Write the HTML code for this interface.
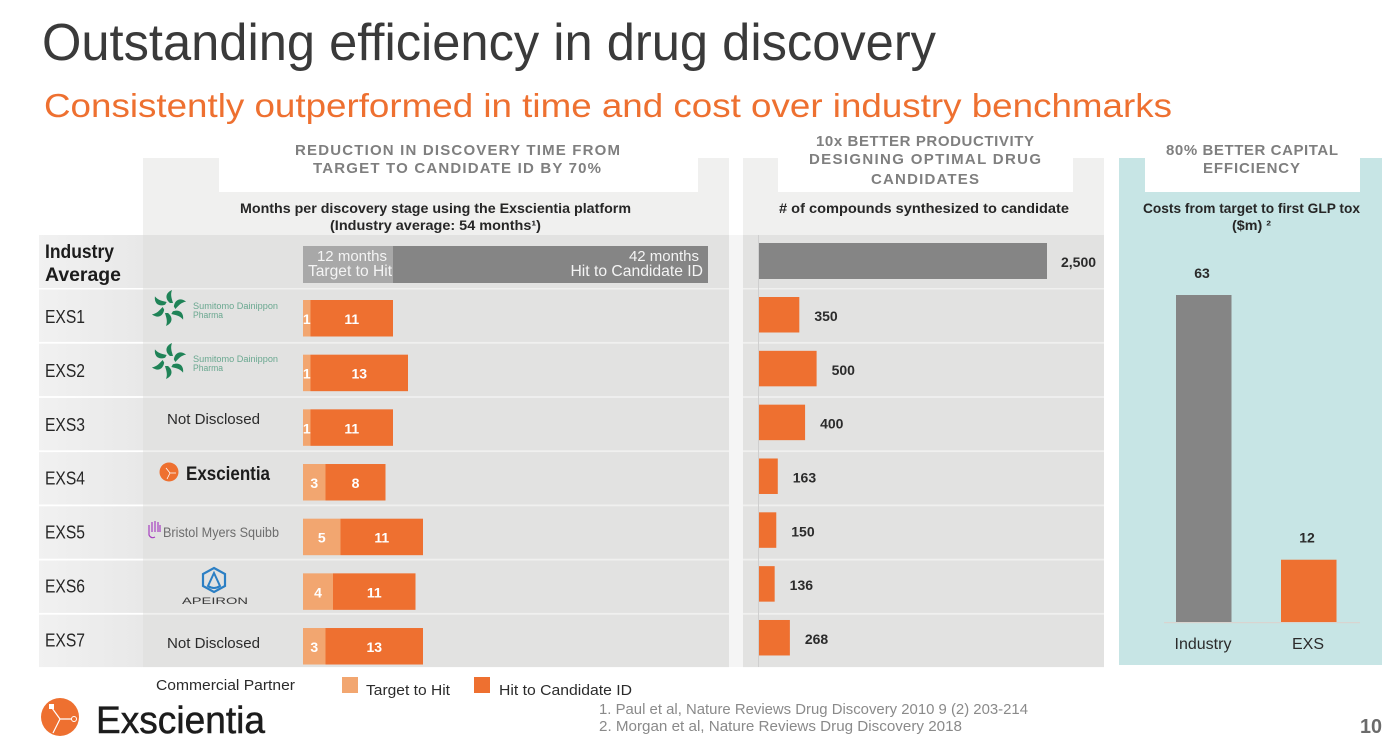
<!DOCTYPE html>
<html lang="en">
<head>
<meta charset="utf-8">
<title>Outstanding efficiency in drug discovery</title>
<style>
html,body{margin:0;padding:0;background:#fff;width:1400px;height:755px;overflow:hidden}
svg{display:block;font-family:"Liberation Sans",sans-serif}
.head{font-weight:700;font-size:15px;fill:#7f7f7f}
.sub{font-weight:700;font-size:14px;fill:#262626}
.plain{font-size:15px;fill:#2b2b2b}
.note{font-size:15px;fill:#8a8a8a}
</style>
</head>
<body>
<svg id="slide" width="1400" height="755" viewBox="0 0 1400 755" xmlns="http://www.w3.org/2000/svg">
  <defs>
    <linearGradient id="fade" x1="0" x2="1" y1="0" y2="0">
      <stop offset="0" stop-color="#f1f1f1"/><stop offset="1" stop-color="#e8e8e8"/>
    </linearGradient>
    <g id="pinwheel" fill="#1f8357">
      <path d="M1,-5 C-4,-9 -4,-15 3,-18 C1,-13 3,-9 4,-5 Z"/>
      <path d="M1,-5 C-4,-9 -4,-15 3,-18 C1,-13 3,-9 4,-5 Z" transform="rotate(60)"/>
      <path d="M1,-5 C-4,-9 -4,-15 3,-18 C1,-13 3,-9 4,-5 Z" transform="rotate(120)"/>
      <path d="M1,-5 C-4,-9 -4,-15 3,-18 C1,-13 3,-9 4,-5 Z" transform="rotate(180)"/>
      <path d="M1,-5 C-4,-9 -4,-15 3,-18 C1,-13 3,-9 4,-5 Z" transform="rotate(240)"/>
      <path d="M1,-5 C-4,-9 -4,-15 3,-18 C1,-13 3,-9 4,-5 Z" transform="rotate(300)"/>
    </g>
  </defs>

  <text x="42" y="60" font-size="52" fill="#3a3a3a" textLength="894" lengthAdjust="spacingAndGlyphs">Outstanding efficiency in drug discovery</text>
  <text x="44" y="117" font-size="33" fill="#ee7030" textLength="1128" lengthAdjust="spacingAndGlyphs">Consistently outperformed in time and cost over industry benchmarks</text>

  <rect x="143" y="158" width="586" height="509" fill="#f0f0ef"/>
  <rect x="729" y="235" width="14" height="432" fill="#f5f5f5"/>
  <rect x="743" y="158" width="361" height="509" fill="#f0f0ef"/>
  <rect x="1119" y="158" width="263" height="507" fill="#c7e5e5"/>
  <rect x="219" y="130" width="479" height="62" fill="#fff"/>
  <rect x="778" y="130" width="295" height="62" fill="#fff"/>
  <rect x="1145" y="130" width="215" height="62" fill="#fff"/>

  <g id="row-bands"></g>

  <g>
    <text class="head" x="295" y="155" textLength="325" lengthAdjust="spacing">REDUCTION IN DISCOVERY TIME FROM</text>
    <text class="head" x="313" y="173" textLength="288" lengthAdjust="spacing">TARGET TO CANDIDATE ID BY 70%</text>
  </g>
  <g>
    <text class="head" x="816" y="146" textLength="218" lengthAdjust="spacing">10x BETTER PRODUCTIVITY</text>
    <text class="head" x="809" y="164" textLength="232" lengthAdjust="spacing">DESIGNING OPTIMAL DRUG</text>
    <text class="head" x="871" y="184" textLength="108" lengthAdjust="spacing">CANDIDATES</text>
  </g>
  <g>
    <text class="head" x="1166" y="155" textLength="172" lengthAdjust="spacing">80% BETTER CAPITAL</text>
    <text class="head" x="1203" y="173" textLength="97" lengthAdjust="spacing">EFFICIENCY</text>
  </g>

  <g>
    <text class="sub" x="240" y="213" textLength="391" lengthAdjust="spacingAndGlyphs">Months per discovery stage using the Exscientia platform</text>
    <text class="sub" x="330" y="230" textLength="211" lengthAdjust="spacingAndGlyphs">(Industry average: 54 months¹)</text>
  </g>
  <text class="sub" x="779" y="213" textLength="290" lengthAdjust="spacingAndGlyphs"># of compounds synthesized to candidate</text>
  <g>
    <text class="sub" x="1143" y="213" textLength="217" lengthAdjust="spacingAndGlyphs">Costs from target to first GLP tox</text>
    <text class="sub" x="1232" y="230" textLength="39" lengthAdjust="spacingAndGlyphs">($m) ²</text>
  </g>

  <g font-weight="700" font-size="19" fill="#1c1c1c">
    <text x="45" y="258" textLength="69" lengthAdjust="spacingAndGlyphs">Industry</text>
    <text x="45" y="281" textLength="76" lengthAdjust="spacingAndGlyphs">Average</text>
  </g>

  <g id="time-chart"></g>
  <g id="compounds-chart"></g>
  <g id="capital-chart"></g>

  <g>
    <use href="#pinwheel" transform="translate(169,308)"/>
    <text x="193" y="309" font-size="9" fill="#6aa890" textLength="85" lengthAdjust="spacingAndGlyphs">Sumitomo Dainippon</text>
    <text x="193" y="318" font-size="9" fill="#6aa890" textLength="30" lengthAdjust="spacingAndGlyphs">Pharma</text>
  </g>
  <g>
    <use href="#pinwheel" transform="translate(169,361)"/>
    <text x="193" y="362" font-size="9" fill="#6aa890" textLength="85" lengthAdjust="spacingAndGlyphs">Sumitomo Dainippon</text>
    <text x="193" y="371" font-size="9" fill="#6aa890" textLength="30" lengthAdjust="spacingAndGlyphs">Pharma</text>
  </g>
  <text class="plain" x="167" y="424" textLength="93" lengthAdjust="spacingAndGlyphs">Not Disclosed</text>
  <g>
    <circle cx="169" cy="472" r="9.5" fill="#ee7030"/>
    <path d="M166,468 L170,473 L176,473 M170,473 L167,479" stroke="#fff" stroke-width="0.8" fill="none"/>
    <text x="186" y="480" font-size="19" font-weight="700" fill="#1c1c1c" textLength="84" lengthAdjust="spacingAndGlyphs">Exscientia</text>
  </g>
  <g>
    <path d="M149,525 V535 Q151,539 155,537 M152,522 V532 M155,521 V532 M158,522 V532 M160,525 V532" stroke="#a63fc0" stroke-width="1.2" fill="none"/>
    <text x="163" y="537" font-size="14" fill="#6d6d6d" textLength="116" lengthAdjust="spacingAndGlyphs">Bristol Myers Squibb</text>
  </g>
  <g>
    <path d="M214,568 L225,574 V586 L214,592 L203,586 V574 Z" fill="none" stroke="#2b7fc4" stroke-width="2.2"/>
    <path d="M214,573 L220,586 Q214,590 208,586 Z" fill="none" stroke="#2b7fc4" stroke-width="2"/>
    <text x="182" y="604" font-size="9" fill="#3a3a3a" textLength="66" lengthAdjust="spacingAndGlyphs">APEIRON</text>
  </g>
  <text class="plain" x="167" y="648" textLength="93" lengthAdjust="spacingAndGlyphs">Not Disclosed</text>

  <text class="plain" x="156" y="690" textLength="139" lengthAdjust="spacingAndGlyphs">Commercial Partner</text>
  <rect x="342" y="677" width="16" height="16" fill="#f2a670"/>
  <text class="plain" x="366" y="695" textLength="84" lengthAdjust="spacingAndGlyphs">Target to Hit</text>
  <rect x="474" y="677" width="16" height="16" fill="#ee7030"/>
  <text class="plain" x="499" y="695" textLength="133" lengthAdjust="spacingAndGlyphs">Hit to Candidate ID</text>

  <g>
    <circle cx="60" cy="717" r="19" fill="#ee7030"/>
    <path d="M52,708 L60,719 L72,719 M60,719 L53,733" stroke="#fff" stroke-width="1.2" fill="none"/>
    <rect x="49" y="704" width="5" height="5" fill="#fff"/>
    <circle cx="74" cy="719" r="2.5" fill="#ee7030" stroke="#fff"/>
    <text x="96" y="733" font-size="38" fill="#1c1c1c" stroke="#1c1c1c" stroke-width="0.5" textLength="169" lengthAdjust="spacingAndGlyphs">Exscientia</text>
  </g>
  <g>
    <text class="note" x="599" y="714" textLength="429" lengthAdjust="spacingAndGlyphs">1. Paul et al, Nature Reviews Drug Discovery 2010 9 (2) 203-214</text>
    <text class="note" x="599" y="731" textLength="363" lengthAdjust="spacingAndGlyphs">2. Morgan et al, Nature Reviews Drug Discovery 2018</text>
  </g>
  <text x="1360" y="733" font-size="20" font-weight="700" fill="#6b6b6b" textLength="22" lengthAdjust="spacingAndGlyphs">10</text>
</svg>

<script>
var rowLabels = ['EXS1', 'EXS2', 'EXS3', 'EXS4', 'EXS5', 'EXS6', 'EXS7'];
var targetToHit = [1, 1, 1, 3, 5, 4, 3];
var hitToCandidate = [11, 13, 11, 8, 11, 11, 13];
var industryTargetToHit = 12;
var industryHitToCandidate = 42;
var compounds = [350, 500, 400, 163, 150, 136, 268];
var industryCompounds = 2500;
var capitalCategories = ['Industry', 'EXS'];
var capitalValues = [63, 12];

var NS = 'http://www.w3.org/2000/svg';
var ORANGE = '#ee7030', LIGHT = '#f2a670', GREY = '#858585';

function monthX(m) { return 303 + m * 7.5; }
function compoundX(c) { return 759 + c * 288 / 2500; }
function capitalY(v) { return 622 - v * 327 / 63; }
function bandTop(i) { return 289.5 + i * 54.2; }
function timeBarTop(i) { return 300 + i * 54.67; }
function compoundBarTop(i) { return 297 + i * 53.83; }

function rect(parent, x, y, w, h, fill) {
  var el = document.createElementNS(NS, 'rect');
  el.setAttribute('x', x);
  el.setAttribute('y', y);
  el.setAttribute('width', w);
  el.setAttribute('height', h);
  el.setAttribute('fill', fill);
  parent.appendChild(el);
  return el;
}
function label(parent, x, y, str, anchor, size, weight, fill) {
  var el = document.createElementNS(NS, 'text');
  el.setAttribute('x', x);
  el.setAttribute('y', y);
  el.setAttribute('text-anchor', anchor);
  el.setAttribute('font-size', size);
  el.setAttribute('font-weight', weight);
  el.setAttribute('fill', fill);
  el.textContent = str;
  parent.appendChild(el);
  return el;
}
function fmt(n) { return String(n).replace(/\B(?=(\d{3})+$)/g, ','); }

var bands = document.getElementById('row-bands');
var timeChart = document.getElementById('time-chart');
var compoundsChart = document.getElementById('compounds-chart');
var capitalChart = document.getElementById('capital-chart');
var el;

/* row backgrounds */
el = rect(bands, 39, 235, 104, 53, 'url(#fade)');


el = rect(bands, 143, 235, 586, 53, '#e2e2e1');


el = rect(bands, 743, 235, 361, 53, '#e2e2e1');


rowLabels.forEach(function (name, i) {
  var y = bandTop(i);
  el = rect(bands, 39, y, 104, 52.4, 'url(#fade)');
  
  
  el = rect(bands, 143, y, 586, 52.4, '#e2e2e1');
  
  
  el = rect(bands, 743, y, 361, 52.4, '#e2e2e1');
  
  
  el = label(bands, 45, 323 + i * 53.9, name, 'start', 18, 400, '#262626');
  el.setAttribute('textLength', '40');
  el.setAttribute('lengthAdjust', 'spacingAndGlyphs');
  
  
});

/* months chart: industry row */
var a = industryTargetToHit, b = industryHitToCandidate;
el = rect(timeChart, monthX(0), 246, monthX(a) - monthX(0), 37, '#a8a8a8');


el = rect(timeChart, monthX(a), 246, monthX(a + b) - monthX(a), 37, GREY);


el = label(timeChart, (monthX(0) + monthX(a)) / 2 + 4, 261, a + ' months', 'middle', 15, 400, '#f4f4f4');


el = label(timeChart, (monthX(0) + monthX(a)) / 2 + 2, 276, 'Target to Hit', 'middle', 15.6, 400, '#f4f4f4');


el = label(timeChart, monthX(a + b) - 9, 261, b + ' months', 'end', 15, 400, '#f4f4f4');


el = label(timeChart, monthX(a + b) - 5, 276, 'Hit to Candidate ID', 'end', 15.7, 400, '#f4f4f4');



/* months chart: program rows */
rowLabels.forEach(function (name, i) {
  var y = timeBarTop(i);
  var t = targetToHit[i], h = hitToCandidate[i];
  el = rect(timeChart, monthX(0), y, monthX(t) - monthX(0), 36.5, LIGHT);
  
  
  el = rect(timeChart, monthX(t), y, monthX(t + h) - monthX(t), 36.5, ORANGE);
  
  
  el = label(timeChart, (monthX(0) + monthX(t)) / 2, y + 24, t, 'middle', 14, 700, '#fff');
  
  
  el = label(timeChart, (monthX(t) + monthX(t + h)) / 2, y + 24, h, 'middle', 14, 700, '#fff');
  
  
});

/* compounds chart */
el = rect(compoundsChart, 758, 235, 1, 432, '#cfcfcf');


el = rect(compoundsChart, compoundX(0), 243, compoundX(industryCompounds) - compoundX(0), 36, GREY);


el = label(compoundsChart, compoundX(industryCompounds) + 14, 267, fmt(industryCompounds), 'start', 14, 700, '#2b2b2b');


compounds.forEach(function (c, i) {
  var y = compoundBarTop(i);
  el = rect(compoundsChart, compoundX(0), y, compoundX(c) - compoundX(0), 35.5, ORANGE);
  
  
  el = label(compoundsChart, compoundX(c) + 15, y + 24, fmt(c), 'start', 14, 700, '#2b2b2b');
  
  
});

/* capital chart */
var capitalX = [1176, 1281];
el = rect(capitalChart, 1164, 622, 196, 1.2, '#d9d4d0');


capitalCategories.forEach(function (name, i) {
  var v = capitalValues[i], left = capitalX[i];
  el = rect(capitalChart, left, capitalY(v), 55.5, capitalY(0) - capitalY(v), i === 0 ? GREY : ORANGE);
  
  
  el = label(capitalChart, left + 26, capitalY(v) - 17, v, 'middle', 14, 700, '#2b2b2b');
  
  
  el = label(capitalChart, left + 27, 649, name, 'middle', 16, 400, '#2b2b2b');
  
  
});
</script>
</body>
</html>
